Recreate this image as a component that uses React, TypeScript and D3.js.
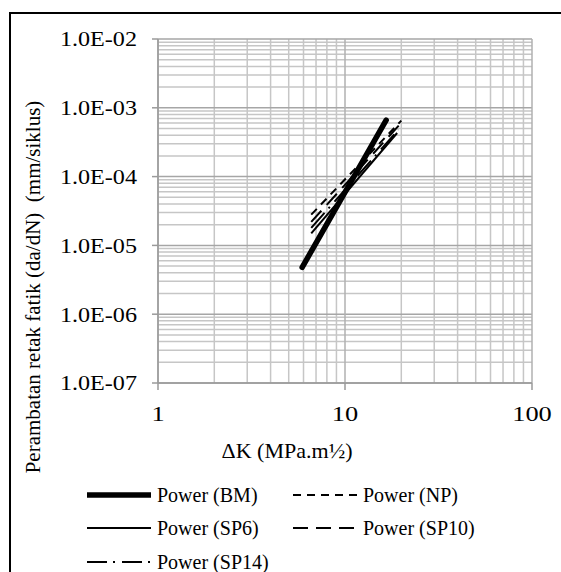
import React from 'react';
import * as d3 from 'd3';

// trendline end points (power fits -> straight in log-log)
const seriesNames = ['Power (BM)', 'Power (NP)', 'Power (SP6)', 'Power (SP10)', 'Power (SP14)'];
const xStart = [5.9, 6.6, 6.6, 6.6, 6.6];
const xEnd = [16.6, 20.0, 19.0, 19.6, 19.3];
const yStart = [4.8e-6, 2.8e-5, 1.5e-5, 2.2e-5, 1.8e-5];
const yEnd = [6.6e-4, 6.5e-4, 4.3e-4, 5.7e-4, 4.8e-4];

const xTicks = [1, 10, 100];
const yTicks = [1e-7, 1e-6, 1e-5, 1e-4, 1e-3, 1e-2];
const yTickLabels = ['1.0E-07', '1.0E-06', '1.0E-05', '1.0E-04', '1.0E-03', '1.0E-02'];

const styles = [
  { width: 5.5, dash: '' },
  { width: 2, dash: '8,6' },
  { width: 2, dash: '' },
  { width: 2, dash: '15,8' },
  { width: 2, dash: '20,6,2,7' },
];

const font = "'Liberation Serif', 'Times New Roman', serif";

// text that is a bit stretched sideways, like the source picture
const Wide = (props: { x: number; y: number; sx: number; size: number; anchor?: string; dy?: string; children: any }) => (
  <g transform={`translate(${props.x},${props.y}) scale(${props.sx},1)`}>
    <text fontSize={props.size} textAnchor={props.anchor || 'start'} dy={props.dy || '0'}>
      {props.children}
    </text>
  </g>
);

export default function App() {
  const margin = { left: 158, right: 532, top: 39, bottom: 383 };

  const x = d3.scaleLog().domain([1, 100]).range([margin.left, margin.right]);
  const y = d3.scaleLog().domain([1e-7, 1e-2]).range([margin.bottom, margin.top]);

  // minor grid values 2..9 per decade
  const xGrid: number[] = [];
  for (let e = 0; e < 2; e++) for (let m = 2; m <= 9; m++) xGrid.push(m * Math.pow(10, e));
  const yGrid: number[] = [];
  for (let e = -7; e < -2; e++) for (let m = 2; m <= 9; m++) yGrid.push(m * Math.pow(10, e));

  const line = d3
    .line<[number, number]>()
    .x((d) => x(d[0]))
    .y((d) => y(d[1]));

  // legend layout
  const legendPos = [
    { lx: 87, ly: 495 },
    { lx: 293, ly: 495 },
    { lx: 87, ly: 528 },
    { lx: 293, ly: 528 },
    { lx: 87, ly: 562 },
  ];

  return (
    <svg
      width={561}
      height={572}
      fontFamily={font}
      style={{ position: 'absolute', left: 0, top: 0, background: '#fff' }}
    >
      <rect x={0} y={0} width={561} height={572} fill="#fff" />
      <rect x={10} y={13} width={620} height={620} fill="none" stroke="#000" strokeWidth={2} />

      {/* grid */}
      {yGrid.map((v) => (
        <line key={'yg' + v} x1={margin.left} x2={margin.right} y1={y(v)} y2={y(v)} stroke="#c6c6c6" strokeWidth={1.5} />
      ))}
      {xGrid.map((v) => (
        <line key={'xg' + v} x1={x(v)} x2={x(v)} y1={margin.top} y2={margin.bottom} stroke="#c6c6c6" strokeWidth={1.5} />
      ))}
      {yTicks.map((v) => (
        <line key={'ym' + v} x1={margin.left} x2={margin.right} y1={y(v)} y2={y(v)} stroke="#a6a6a6" strokeWidth={1.5} />
      ))}
      {xTicks.map((v) => (
        <line key={'xm' + v} x1={x(v)} x2={x(v)} y1={margin.top} y2={margin.bottom} stroke="#b0b0b0" strokeWidth={1.5} />
      ))}

      {/* axes */}
      <line x1={margin.left} x2={margin.left} y1={margin.top} y2={margin.bottom} stroke="#9a9a9a" strokeWidth={1.5} />
      <line x1={margin.left} x2={margin.right} y1={margin.bottom} y2={margin.bottom} stroke="#9a9a9a" strokeWidth={1.5} />
      {yTicks.map((v) => (
        <line key={'yt' + v} x1={margin.left - 6} x2={margin.left} y1={y(v)} y2={y(v)} stroke="#9a9a9a" strokeWidth={1.5} />
      ))}
      {xTicks.map((v) => (
        <line key={'xt' + v} x1={x(v)} x2={x(v)} y1={margin.bottom} y2={margin.bottom + 7} stroke="#9a9a9a" strokeWidth={1.5} />
      ))}

      {/* tick labels */}
      {yTicks.map((v, i) => (
        <Wide key={'yl' + v} x={137} y={y(v)} sx={1.15} size={21} anchor="end" dy="0.35em">
          {yTickLabels[i]}
        </Wide>
      ))}
      {xTicks.map((v) => (
        <Wide key={'xl' + v} x={x(v)} y={421} sx={1.2} size={22} anchor="middle">
          {v}
        </Wide>
      ))}

      {/* axis titles */}
      <Wide x={287} y={458} sx={1.05} size={21} anchor="middle">
        ΔK (MPa.m½)
      </Wide>
      <text
        transform="translate(40,287) rotate(-90)"
        textAnchor="middle"
        fontSize={21}
        style={{ whiteSpace: 'pre' }}
      >
        {'Perambatan retak fatik (da/dN)  (mm/siklus)'}
      </text>

      {/* trendlines */}
      {seriesNames.map((name, i) => (
        <path
          key={name}
          d={line([
            [xStart[i], yStart[i]],
            [xEnd[i], yEnd[i]],
          ]) || ''}
          fill="none"
          stroke="#000"
          strokeWidth={styles[i].width}
          strokeDasharray={styles[i].dash}
          strokeLinecap={i === 0 ? 'round' : 'butt'}
        />
      ))}

      {/* legend */}
      {seriesNames.map((name, i) => (
        <g key={'lg' + name}>
          <line
            x1={legendPos[i].lx}
            x2={legendPos[i].lx + 64}
            y1={legendPos[i].ly}
            y2={legendPos[i].ly}
            stroke="#000"
            strokeWidth={styles[i].width}
            strokeDasharray={styles[i].dash}
          />
          <text x={legendPos[i].lx + 70} y={legendPos[i].ly} dy="0.35em" fontSize={20}>
            {name}
          </text>
        </g>
      ))}
    </svg>
  );
}
